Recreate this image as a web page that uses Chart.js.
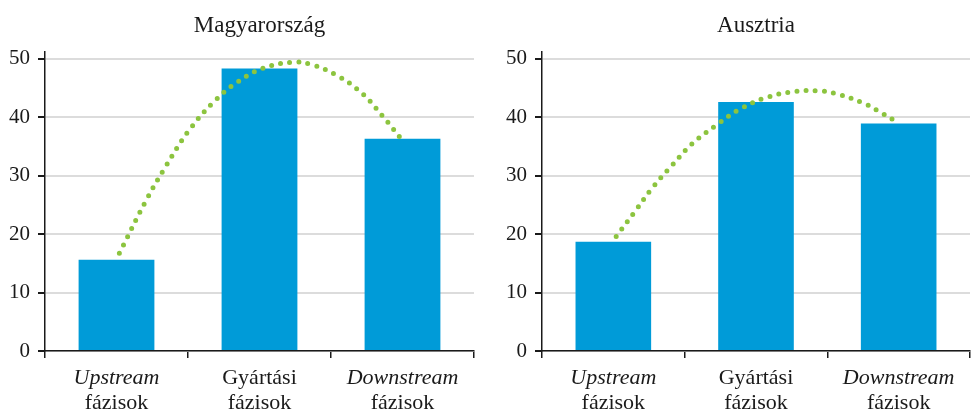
<!DOCTYPE html>
<html>
<head>
<meta charset="utf-8">
<script src="https://cdn.jsdelivr.net/npm/chart.js@4"></script>
<style>
  body { margin: 0; background: #fff; }
  .wrap { display: flex; width: 971px; height: 413px; }
  .box { position: relative; height: 413px; }
</style>
</head>
<body>
<div class="wrap">
  <div class="box" style="width:485px"><canvas id="hu"></canvas></div>
  <div class="box" style="width:486px"><canvas id="at"></canvas></div>
</div>
<script>
// adatok
const categories = ['Upstream', 'Gyártási', 'Downstream']
const secondLine = ['fázisok', 'fázisok', 'fázisok']
const huBars = [15.6, 48.3, 36.3]
const atBars = [18.7, 42.6, 38.9]
// pontozott görbe (kategória-index, érték)
const huCurveX = [0.02, 0.21, 0.35, 0.50, 0.68, 0.84, 1.02, 1.23, 1.36, 1.55, 1.72, 1.86, 1.99]
const huCurveY = [16.7, 25.9, 31.8, 37.5, 42.6, 45.9, 48.3, 49.4, 49.0, 47.0, 44.0, 40.2, 36.3]
const atCurveX = [0.02, 0.15, 0.27, 0.41, 0.55, 0.72, 0.89, 1.08, 1.28, 1.43, 1.56, 1.76, 1.88, 2.00]
const atCurveY = [19.6, 23.8, 27.8, 31.7, 35.4, 38.6, 41.4, 43.4, 44.4, 44.5, 44.0, 42.3, 40.7, 39.0]

const FONT = "'Liberation Serif', 'DejaVu Serif', serif"
const BLUE = '#009bd8'
const GREEN = '#8cc43f'
const INK = '#1a1a1a'

function makeChart(id, title, bars, cx, cy, padLeft, padRight){
    const curve = cx.map((x, i) => ({ x: x, y: cy[i] }))
    return new Chart(document.getElementById(id), {
        type: 'bar',
        data: {
            labels: categories,
            datasets: [{
                type: 'line',
                data: curve,
                xAxisID: 'xl',
                borderColor: GREEN,
                borderWidth: 5,
                borderDash: [0, 9.2],
                borderCapStyle: 'round',
                pointRadius: 0,
                tension: 0.4,
                fill: false,
                order: 0
            }, {
                type: 'bar',
                data: bars,
                xAxisID: 'x',
                backgroundColor: BLUE,
                grouped: false,
                categoryPercentage: 1,
                barPercentage: 0.53,
                order: 1
            }]
        },
        options: {
            responsive: true,
            maintainAspectRatio: false,
            animation: false,
            layout: { padding: { left: padLeft, right: padRight, top: 0, bottom: 0 } },
            plugins: {
                legend: { display: false },
                tooltip: { enabled: false },
                title: {
                    display: true,
                    fullSize: false,
                    text: title,
                    color: INK,
                    font: { family: FONT, size: 23, weight: 'normal' },
                    padding: { top: 12, bottom: 12 }
                }
            },
            scales: {
                x: {
                    type: 'category',
                    offset: true,
                    grid: { display: true, drawOnChartArea: false, drawTicks: true, tickLength: 7, color: INK, lineWidth: 1.5, offset: true },
                    border: { display: true, color: INK, width: 1.5 },
                    ticks: {
                        color: INK,
                        padding: 9,
                        font: ctx => ({ family: FONT, size: 22, lineHeight: 1, style: ctx.index === 1 ? 'normal' : 'italic' })
                    },
                    afterFit: scale => { scale.height = 40 }
                },
                x2: {
                    type: 'category',
                    labels: secondLine,
                    position: 'bottom',
                    offset: true,
                    grid: { display: false, drawTicks: false },
                    border: { display: false },
                    ticks: { color: INK, padding: 1, font: { family: FONT, size: 22, lineHeight: 1 } },
                    afterFit: scale => { scale.height = 22 }
                },
                xl: {
                    type: 'linear',
                    display: false,
                    offset: false,
                    grid: { offset: false },
                    min: -0.5,
                    max: 2.5
                },
                y: {
                    min: 0,
                    max: 51.2,
                    grid: { color: '#dcdcdc', lineWidth: 2, tickColor: INK, tickLength: 7 },
                    border: { display: true, color: INK, width: 1.5 },
                    ticks: {
                        stepSize: 10,
                        includeBounds: false,
                        color: INK,
                        padding: 8,
                        font: { family: FONT, size: 21 }
                    }
                }
            }
        }
    })
}

makeChart('hu', 'Magyarország', huBars, huCurveX, huCurveY, 1, 11)
makeChart('at', 'Ausztria', atBars, atCurveX, atCurveY, 13, 1)
</script>
</body>
</html>
